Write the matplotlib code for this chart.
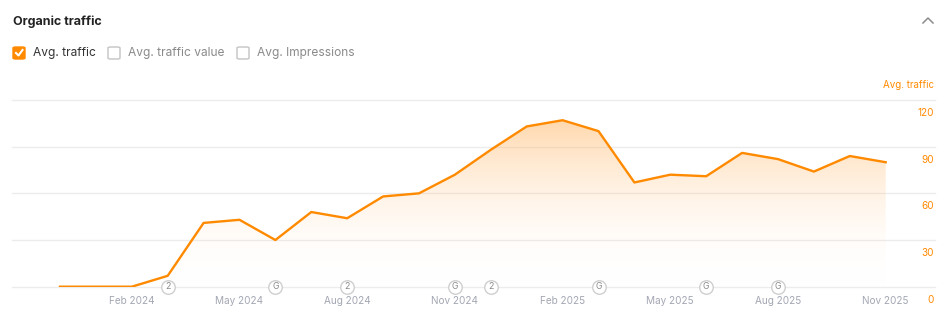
import numpy as np
import matplotlib
matplotlib.use("Agg")
import matplotlib.pyplot as plt
from matplotlib.colors import LinearSegmentedColormap
from matplotlib.patches import FancyBboxPatch
from matplotlib.lines import Line2D

plt.rcParams['font.family'] = ['Inter', 'DejaVu Sans']

# monthly data, Dec 2023 .. Nov 2025
months = ['Dec 2023', 'Jan 2024', 'Feb 2024', 'Mar 2024', 'Apr 2024', 'May 2024',
          'Jun 2024', 'Jul 2024', 'Aug 2024', 'Sep 2024', 'Oct 2024', 'Nov 2024',
          'Dec 2024', 'Jan 2025', 'Feb 2025', 'Mar 2025', 'Apr 2025', 'May 2025',
          'Jun 2025', 'Jul 2025', 'Aug 2025', 'Sep 2025', 'Oct 2025', 'Nov 2025']
traffic = [0, 0, 0, 7, 41, 43, 30, 48, 44, 58, 60, 72,
           88, 103, 107, 100, 67, 72, 71, 86, 82, 74, 84, 80]
tick_months = ['Feb 2024', 'May 2024', 'Aug 2024', 'Nov 2024',
               'Feb 2025', 'May 2025', 'Aug 2025', 'Nov 2025']
y_ticks = [0, 30, 60, 90, 120]
annot_months = ['Mar 2024', 'Jun 2024', 'Aug 2024', 'Nov 2024',
                'Dec 2024', 'Mar 2025', 'Jun 2025', 'Aug 2025']
annot_marks = ['2', 'G', '2', 'G', '2', 'G', 'G', 'G']
checkboxes = ['Avg. traffic', 'Avg. traffic value', 'Avg. Impressions']
checked = [True, False, False]

W, H = 948, 316
ORANGE = '#FF8A00'
fig = plt.figure(figsize=(W / 100, H / 100), dpi=100)


def fx(x):
    return x / W


def fy(y):
    return 1 - y / H


# plot area in pixels
left, right, top, bottom = 12, 935, 100, 286.7
ax = fig.add_axes([fx(left), fy(bottom), fx(right - left), (bottom - top) / H])
x = np.arange(len(months))
step = 35.9
for s in ax.spines.values():
    s.set_visible(False)
ax.set_yticks([])
for v in y_ticks:
    ax.axhline(v, color='#ececec', lw=1, zorder=0, clip_on=False)

# gradient fill under the line
poly = ax.fill_between(x, traffic, 0, color='none', lw=0)
cmap = LinearSegmentedColormap.from_list('fade', [(1, 1, 1, 0), (1, 0.62, 0.2, 0.4)])
grad = np.linspace(0, 1, 256).reshape(-1, 1)
im = ax.imshow(grad, cmap=cmap, origin='lower', aspect='auto',
               extent=[x[0], x[-1], 0, max(traffic)], zorder=1)
im.set_clip_path(poly.get_paths()[0], transform=ax.transData)
ax.plot(x, traffic, color=ORANGE, lw=1.7, zorder=3)
ax.set_xlim((left - 60) / step, (right - 60) / step)
ax.set_ylim(0, 120)

# x ticks
ax.set_xticks([months.index(m) for m in tick_months])
ax.set_xticklabels(tick_months, fontsize=7.2, color='#a3a7b3')
ax.tick_params(axis='x', length=0, pad=7)

# y labels (right, below their gridline)
for v in y_ticks:
    ax.annotate(str(v), xy=(1, v), xycoords=('axes fraction', 'data'),
                xytext=(-1, -13), textcoords='offset pixels',
                ha='right', va='center', fontsize=7.2, color=ORANGE)
fig.text(fx(934), fy(85), 'Avg. traffic', ha='right', va='center',
         fontsize=7.0, color=ORANGE)

# annotation badges on the baseline
for m, t in zip(annot_months, annot_marks):
    i = months.index(m)
    ax.scatter([i], [0], s=95, facecolor='white', edgecolor='#cfcfcf',
               lw=1, zorder=4, clip_on=False)
    ax.text(i, 0, t, ha='center', va='center', fontsize=6.3,
            color='#8a8a8a', zorder=5, clip_on=False)

# header
fig.text(fx(13), fy(21.5), 'Organic traffic', ha='left', va='center',
         fontsize=9, fontweight='bold', color='#222222')
chev = Line2D([fx(923), fx(928), fx(933)], [fy(23), fy(18), fy(23)],
              color='#8c8c8c', lw=1.1, transform=fig.transFigure)
fig.add_artist(chev)

box_x = [12, 107, 236]
for bx, label, on in zip(box_x, checkboxes, checked):
    box = FancyBboxPatch((fx(bx + 1), fy(59)), fx(12), 12 / H,
                         boxstyle='round,pad=0,rounding_size=0.003',
                         transform=fig.transFigure,
                         facecolor=ORANGE if on else 'white',
                         edgecolor=ORANGE if on else '#c4c4c4', lw=1)
    fig.add_artist(box)
    if on:
        fig.add_artist(Line2D([fx(bx + 4), fx(bx + 6.5), fx(bx + 10.5)],
                              [fy(53), fy(55.5), fy(50)], color='white',
                              lw=1.5, transform=fig.transFigure))
    fig.text(fx(bx + 21), fy(53), label, ha='left', va='center', fontsize=8.6,
             color='#333333' if on else '#8a8a8a')

fig.savefig('out.png', dpi=100)
